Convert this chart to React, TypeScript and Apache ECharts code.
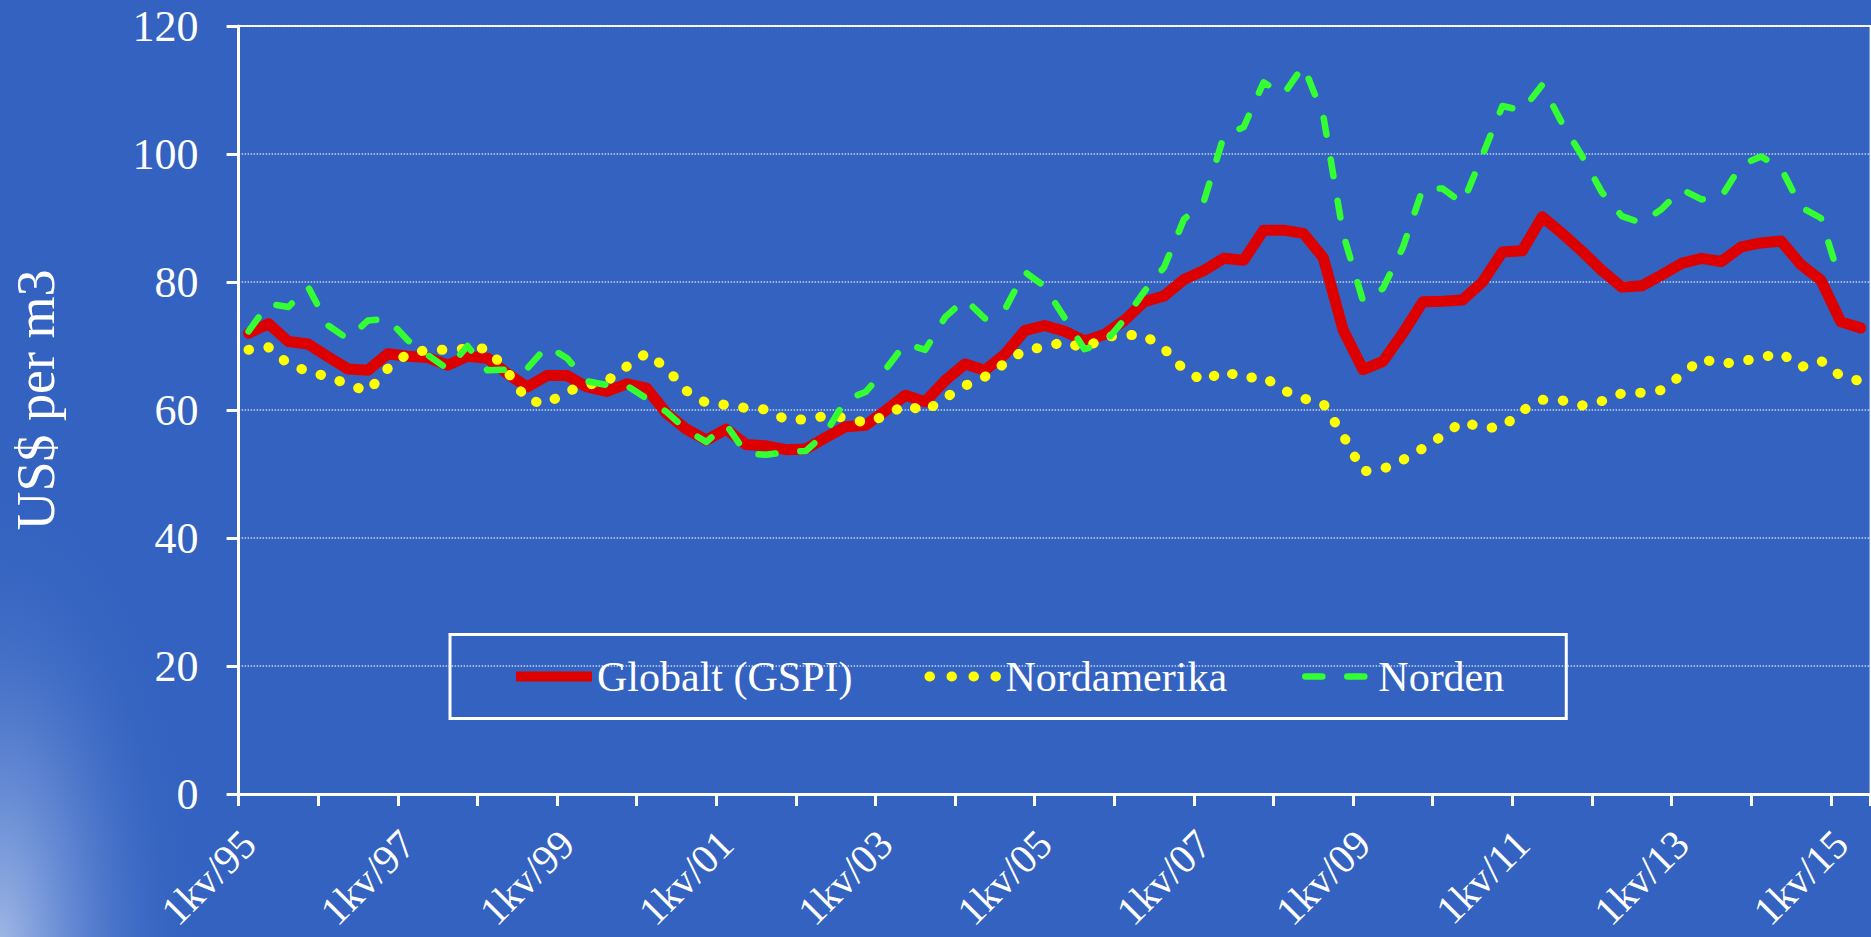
import React, { useEffect, useRef } from "react";
import * as echarts from "echarts";

// ---- data -------------------------------------------------------------
const years = [95, 96, 97, 98, 99, 0, 1, 2, 3, 4, 5, 6, 7, 8, 9, 10, 11, 12, 13, 14, 15];
const categories: string[] = [];
years.forEach((y) => {
  for (let q = 1; q <= 4; q++) categories.push(`${q}kv/${String(y).padStart(2, "0")}`);
});
const quarterLabels = categories.slice(0, 82); // 1kv/95 .. 2kv/15

const globalt = [
  72.0, 73.5, 70.7, 70.3, 68.3, 66.4, 66.2, 68.8, 68.4, 68.2,
  67.0, 68.4, 68.1, 65.7, 63.6, 65.4, 65.4, 63.6, 62.9, 64.1,
  63.4, 59.5, 57.0, 55.3, 57.0, 54.6, 54.4, 53.8, 53.9, 55.7,
  57.4, 57.6, 59.9, 62.3, 61.3, 64.6, 67.2, 66.2, 68.7, 72.4,
  73.2, 72.3, 70.8, 71.8, 74.0, 76.9, 77.8, 80.4, 81.8, 83.7,
  83.4, 88.1, 88.1, 87.6, 83.8, 72.5, 66.3, 67.6, 72.0, 76.9,
  77.0, 77.2, 80.0, 84.7, 84.9, 90.2, 87.6, 84.8, 81.8, 79.2,
  79.4, 81.1, 82.9, 83.7, 83.2, 85.5, 86.1, 86.4, 82.7, 80.3,
  73.8, 72.8,
];

const nordamerika = [
  69.4, 69.8, 67.2, 66.0, 65.2, 64.0, 62.9, 66.5, 68.8, 69.4,
  69.4, 69.6, 69.6, 66.0, 61.5, 61.0, 62.9, 63.9, 64.5, 66.8,
  68.9, 66.5, 63.0, 61.1, 60.8, 60.3, 60.1, 58.5, 58.5, 59.1,
  58.8, 58.0, 59.1, 60.8, 59.8, 61.9, 63.8, 65.2, 67.3, 69.4,
  69.8, 70.7, 69.6, 71.4, 71.7, 71.7, 69.6, 66.3, 64.5, 66.1,
  65.0, 65.2, 63.1, 61.8, 61.0, 56.0, 50.4, 50.8, 52.2, 54.0,
  56.0, 58.2, 57.2, 57.3, 59.9, 61.6, 61.5, 60.7, 61.4, 62.6,
  62.7, 63.1, 65.5, 68.0, 67.2, 67.6, 68.2, 68.9, 66.7, 67.7,
  65.3, 64.5,
];

const norden: (number | null)[] = [
  72.3, 76.6, 76.1, 79.2, 73.2, 71.1, 74.0, 74.2, 70.9, 68.6,
  66.4, 70.0, 66.2, 66.3, 66.5, 70.0, 68.1, 64.5, 63.9, 63.8,
  61.8, 59.7, 56.9, 55.0, 57.7, 53.2, 53.0, 53.4, 53.6, 56.4,
  61.6, 62.8, 66.3, 70.4, 69.4, 74.5, 77.3, 74.3, 75.7, 81.6,
  79.3, 74.4, 69.5, 70.5, 74.1, 78.5, 82.3, 89.8, 92.6, 102.8,
  104.2, 111.2, 109.3, 113.8, 106.0, 87.5, 77.0, 79.0, 85.4, 94.6,
  94.6, 92.3, 99.8, 107.5, 106.8, 110.8, 104.8, 99.7, 94.0, 90.3,
  89.2, 91.4, 94.5, 92.9, 93.3, 98.3, 99.6, 97.8, 91.7, 90.0,
  80.0, null,
];

const seriesNames = ["Globalt (GSPI)", "Nordamerika", "Norden"];
const yTitle = "US$ per m3";

// ---- styles -----------------------------------------------------------
const FONT = "'Liberation Serif', 'Times New Roman', serif";
const BG = "#3362C0";
const RED = "#DD0000";
const YELLOW = "#FFFF00";
const GREEN = "#33FF33";

export default function App() {
  const ref = useRef<HTMLDivElement>(null);

  useEffect(() => {
    document.body.style.margin = "0";
    document.body.style.background = BG;
    const chart = echarts.init(ref.current!, null, { renderer: "svg" });

    const option: any = {
      animation: false,
      backgroundColor: BG,
      graphic: [
        {
          type: "ellipse",
          z: -100,
          silent: true,
          shape: { cx: 0, cy: 950, rx: 200, ry: 470 },
          style: {
            fill: new echarts.graphic.RadialGradient(0.5, 0.5, 0.5, [
              { offset: 0, color: "rgba(200,214,242,0.75)" },
              { offset: 0.4, color: "rgba(160,185,235,0.4)" },
              { offset: 1, color: "rgba(51,98,192,0)" },
            ]),
          },
        },
        {
          type: "text",
          x: 36,
          y: 400,
          rotation: Math.PI / 2,
          silent: true,
          style: {
            text: yTitle,
            fill: "#fff",
            fontSize: 54,
            fontFamily: FONT,
            align: "center",
            verticalAlign: "middle",
            textAlign: "center",
            textVerticalAlign: "middle",
          },
        },
      ],
      grid: {
        left: 238.6,
        right: 0.4,
        top: 26,
        bottom: 143,
        containLabel: false,
        outerBoundsMode: "none",
        show: true,
        borderColor: "#ffffff",
        borderWidth: 2,
        backgroundColor: "transparent",
      },
      legend: {
        left: 450,
        top: 634.5,
        orient: "horizontal",
        padding: [21, 62, 21, 61],
        itemGap: 67,
        itemWidth: 76,
        itemHeight: 14,
        borderColor: "#ffffff",
        borderWidth: 3,
        backgroundColor: "transparent",
        selectedMode: false,
        itemStyle: { opacity: 0 },
        textStyle: { color: "#ffffff", fontFamily: FONT, fontSize: 42 },
        data: [
          {
            name: seriesNames[0],
            lineStyle: { width: 10, color: RED, cap: "butt", type: "solid" },
          },
          {
            name: seriesNames[1],
            lineStyle: { width: 10, color: YELLOW, cap: "round", type: [0.5, 21.5], dashOffset: -5 },
          },
          {
            name: seriesNames[2],
            lineStyle: { width: 6.5, color: GREEN, cap: "round", type: [17, 25], dashOffset: -8.5 },
          },
        ],
      },
      xAxis: {
        type: "category",
        data: quarterLabels,
        boundaryGap: true,
        axisLine: { show: true, lineStyle: { color: "#ffffff", width: 3 } },
        axisTick: { show: true, interval: 3, length: 12, lineStyle: { color: "#ffffff", width: 3 } },
        axisLabel: {
          interval: 7,
          rotate: 45,
          margin: 43,
          color: "#ffffff",
          fontFamily: FONT,
          fontSize: 41,
          lineHeight: 38,
          align: "right",
          verticalAlign: "middle",
        },
        splitLine: { show: false },
      },
      yAxis: {
        type: "value",
        min: 0,
        max: 120,
        interval: 20,
        axisLine: { show: true, lineStyle: { color: "#ffffff", width: 3 } },
        axisTick: { show: true, length: 12, lineStyle: { color: "#ffffff", width: 3 } },
        axisLabel: { margin: 40, color: "#ffffff", fontFamily: FONT, fontSize: 44 },
        splitLine: {
          show: true,
          lineStyle: { color: "rgba(225,232,248,0.85)", width: 1.5, type: [1.5, 1.5] },
        },
      },
      series: [
        {
          name: seriesNames[0],
          type: "line",
          data: globalt,
          symbol: "none",
          itemStyle: { color: RED },
          lineStyle: { color: RED, width: 11, cap: "round", join: "round" },
          z: 2,
        },
        {
          name: seriesNames[1],
          type: "line",
          data: nordamerika,
          symbol: "none",
          itemStyle: { color: YELLOW },
          lineStyle: { color: YELLOW, width: 10, type: [0.5, 19.5], cap: "round", join: "round" },
          z: 3,
        },
        {
          name: seriesNames[2],
          type: "line",
          data: norden,
          symbol: "none",
          connectNulls: false,
          itemStyle: { color: GREEN },
          lineStyle: { color: GREEN, width: 6.5, type: [17, 25], cap: "round", join: "round" },
          z: 4,
        },
      ],
    };

    chart.setOption(option);
    return () => chart.dispose();
  }, []);

  return (
    <div
      ref={ref}
      style={{ position: "fixed", left: 0, top: 0, width: 1871, height: 937, background: BG }}
    />
  );
}
